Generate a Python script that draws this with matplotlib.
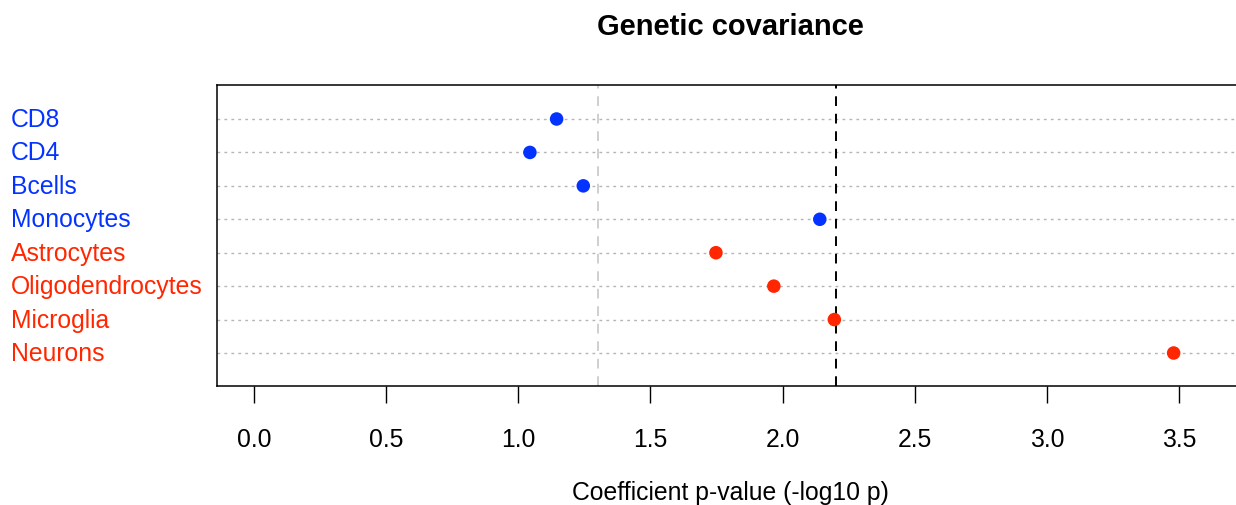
import matplotlib
matplotlib.use("Agg")
import matplotlib.pyplot as plt
import matplotlib.transforms as mtransforms

plt.rcParams['font.family'] = ['Liberation Sans', 'DejaVu Sans']

# data, top to bottom
cells = ["CD8", "CD4", "Bcells", "Monocytes", "Astrocytes",
         "Oligodendrocytes", "Microglia", "Neurons"]
pvals = [1.145, 1.044, 1.246, 2.141, 1.748, 1.967, 2.196, 3.48]
groups = ["blood", "blood", "blood", "blood", "brain", "brain", "brain", "brain"]
nominal = 1.301      # -log10(0.05)
bonferroni = 2.204   # -log10(0.05/8)
xticks = [0.0, 0.5, 1.0, 1.5, 2.0, 2.5, 3.0, 3.5]

colors = {"blood": "#0433FF", "brain": "#FF2600"}

fig = plt.figure(figsize=(12.36, 5.06), dpi=100)
ax = fig.add_axes([217.3/1236, 118.7/506, 1 - 217.3/1236, (387.3-86)/506])

n = len(cells)
ys = list(range(n, 0, -1))
for y in ys:
    ax.axhline(y, color="#b5b5b5", lw=1.0, ls=(0, (2, 3)), zorder=1)

ax.axvline(nominal, color="#cfcfcf", lw=1.4, ls=(0, (5, 4)), zorder=1)
ax.axvline(bonferroni, color="black", lw=1.4, ls=(0, (5, 4)), zorder=1)

ax.scatter(pvals, ys, s=95, c=[colors[g] for g in groups], zorder=3, linewidths=0)

ax.set_xlim(-0.139, 3.716)
ax.set_ylim(0.004, 9.017)
ax.set_yticks([])
ax.set_xticks(xticks)
ax.set_xticklabels(["%.1f" % t for t in xticks], fontsize=17.8)
ax.tick_params(axis='x', length=12, width=1.0, pad=17)
ax.spines['right'].set_visible(False)
for s in ['left', 'top', 'bottom']:
    ax.spines[s].set_linewidth(1.1)

trans = mtransforms.blended_transform_factory(fig.transFigure, ax.transData)
for lab, y, g in zip(cells, ys, groups):
    ax.text(11/1236, y, lab, transform=trans, ha='left', va='center',
            fontsize=17.8, color=colors[g], clip_on=False)

fig.text(730/1236, 1 - 27/506, "Genetic covariance", ha='center', va='center',
         fontsize=21, fontweight='bold')
fig.text(730/1236, 1 - 493/506, "Coefficient p-value (-log10 p)", ha='center',
         va='center', fontsize=17.8)

fig.savefig("out.png", dpi=100)
